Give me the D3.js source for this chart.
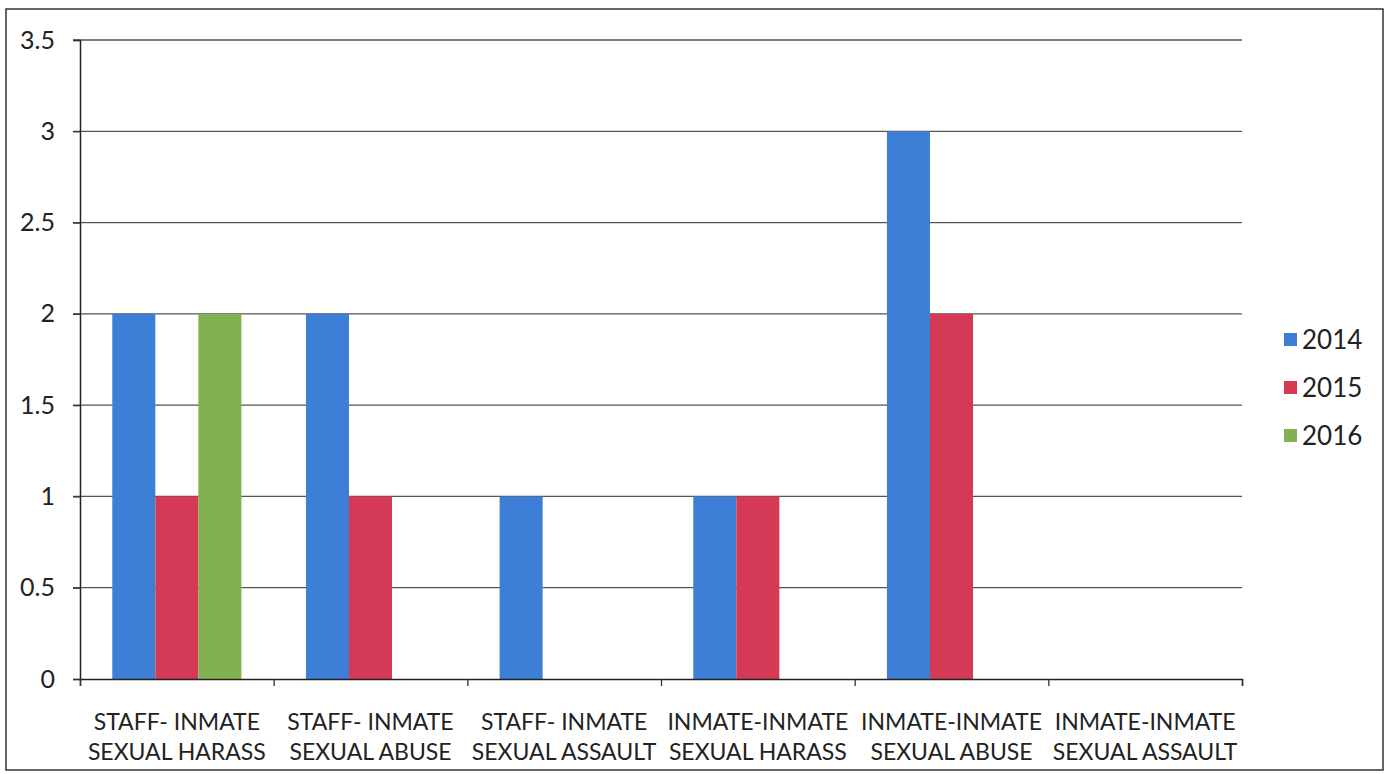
<!DOCTYPE html>
<html>
<head>
<meta charset="utf-8">
<script src="https://cdn.jsdelivr.net/npm/d3@7"></script>
<style>
  body { margin: 0; background: #fff; }
  svg { display: block; }
  text { font-family: Lato, "Open Sans", sans-serif; fill: #222; }
</style>
</head>
<body>
<svg id="chart" width="1387" height="774"></svg>
<script>
// categories, two label lines each
const categories = [
  ["STAFF- INMATE", "SEXUAL HARASS"],
  ["STAFF- INMATE", "SEXUAL ABUSE"],
  ["STAFF- INMATE", "SEXUAL ASSAULT"],
  ["INMATE-INMATE", "SEXUAL HARASS"],
  ["INMATE-INMATE", "SEXUAL ABUSE"],
  ["INMATE-INMATE", "SEXUAL ASSAULT"]
];
const years = ["2014", "2015", "2016"];
const values2014 = [2, 2, 1, 1, 3, 0];
const values2015 = [1, 1, 0, 1, 2, 0];
const values2016 = [2, 0, 0, 0, 0, 0];
const yTicks = [0, 0.5, 1, 1.5, 2, 2.5, 3, 3.5];

const seriesValues = [values2014, values2015, values2016];
const colors = ["#3d7fd6", "#d43a55", "#82b152"];

const svg = d3.select("#chart");
const margin = { left: 80, right: 145, top: 40, bottom: 95 };
const width = 1387, height = 774;
const innerW = width - margin.left - margin.right;
const innerH = height - margin.top - margin.bottom;

// outer frame
svg.append("rect")
  .attr("x", 6).attr("y", 9)
  .attr("width", 1377).attr("height", 761)
  .attr("fill", "none").attr("stroke", "#333").attr("stroke-width", 1.5);

const g = svg.append("g").attr("transform", `translate(${margin.left},${margin.top})`);

const x = d3.scaleBand()
  .domain(d3.range(categories.length))
  .range([0, innerW])
  .paddingInner(0).paddingOuter(0);

const x1 = d3.scaleBand()
  .domain(years)
  .range([0, x.bandwidth()])
  .paddingInner(0)
  .paddingOuter(0.75);

const y = d3.scaleLinear().domain([0, 3.5]).range([innerH, 0]);

// gridlines
g.selectAll(".grid")
  .data(yTicks.filter(d => d > 0))
  .join("line")
  .attr("class", "grid")
  .attr("x1", -7).attr("x2", innerW)
  .attr("y1", d => y(d)).attr("y2", d => y(d))
  .attr("stroke", "#555").attr("stroke-width", 1.3);

// bars
const groups = g.selectAll(".grp")
  .data(categories.map((c, i) => i))
  .join("g")
  .attr("class", "grp")
  .attr("transform", i => `translate(${x(i)},0)`);

groups.selectAll("rect")
  .data(i => years.map((yr, k) => ({ yr, k, v: seriesValues[k][i] })).filter(d => d.v > 0))
  .join("rect")
  .attr("x", d => x1(d.yr))
  .attr("width", x1.bandwidth())
  .attr("y", d => y(d.v))
  .attr("height", d => innerH - y(d.v))
  .attr("fill", d => colors[d.k]);

// y axis
const yAxis = g.append("g")
  .call(d3.axisLeft(y).tickValues(yTicks).tickSize(7).tickPadding(18).tickFormat(d3.format("")));
yAxis.select(".domain").attr("stroke", "#222").attr("stroke-width", 1.5);
yAxis.selectAll(".tick line").attr("stroke", "#333").attr("stroke-width", 1.3);
yAxis.selectAll(".tick text")
  .style("font-size", "25px").style("font-family", "Lato, sans-serif").attr("fill", "#222");

// x axis
const xAxis = g.append("g")
  .attr("transform", `translate(0,${innerH})`)
  .call(d3.axisBottom(d3.scaleLinear().domain([0, categories.length]).range([0, innerW]))
    .tickValues(d3.range(categories.length + 1)).tickSize(7).tickFormat(""));
xAxis.select(".domain").attr("stroke", "#222").attr("stroke-width", 1.5);
xAxis.selectAll(".tick line").attr("stroke", "#333").attr("stroke-width", 1.3);

const labels = g.selectAll(".xlab")
  .data(categories)
  .join("text")
  .attr("class", "xlab")
  .attr("text-anchor", "middle")
  .attr("x", (d, i) => x(i) + x.bandwidth() / 2)
  .attr("y", innerH + 51)
  .style("font-size", "23px");
labels.selectAll("tspan")
  .data(d => d)
  .join("tspan")
  .attr("x", function () { return d3.select(this.parentNode).attr("x"); })
  .attr("dy", (d, i) => i === 0 ? 0 : 30)
  .text(d => d);

// legend
const legend = svg.append("g").attr("transform", "translate(1284,340)");
const items = legend.selectAll("g")
  .data(years)
  .join("g")
  .attr("transform", (d, i) => `translate(0,${i * 48})`);
items.append("rect")
  .attr("x", 0).attr("y", -7)
  .attr("width", 13).attr("height", 13)
  .attr("fill", (d, i) => colors[i]);
items.append("text")
  .attr("x", 18).attr("y", 0).attr("dy", "0.35em")
  .style("font-size", "26px")
  .text(d => d);
</script>
</body>
</html>
